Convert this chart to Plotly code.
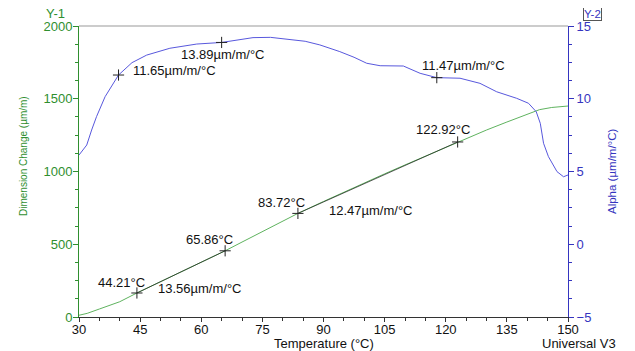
import plotly.graph_objects as go

# ---- data ----
temp_dim = [30, 32, 35, 40, 44.21, 50, 55, 60, 65.86, 70, 75, 80, 83.72, 90, 95, 100,
            105, 110, 115, 120, 122.92, 125, 130, 135, 140, 143, 146, 150]
dim_change = [12, 25, 55, 105, 165, 242, 310, 378, 455, 515, 585, 655, 712, 794, 859, 921,
              984, 1045, 1105, 1166, 1203, 1225, 1285, 1340, 1395, 1425, 1440, 1450]

temp_alpha = [30.0, 31.9, 33.1, 34.3, 36.4, 39.7, 43.0, 46.6, 52.3, 58.9, 65.0, 69.5, 72.7,
              77.0, 81.8, 85.5, 89.1, 94.0, 97.5, 100.6, 103.9, 109.6, 113.7, 117.8, 123.5,
              128.4, 132.5, 137.4, 140.3, 142.2, 143.2, 144.0, 145.2, 147.3, 148.9, 150.0]
alpha = [6.13, 6.82, 7.85, 8.77, 10.14, 11.63, 12.48, 13.0, 13.47, 13.76, 13.87, 14.04, 14.2,
         14.22, 14.08, 13.95, 13.7, 13.24, 12.85, 12.44, 12.27, 12.25, 11.75, 11.45, 11.41,
         11.06, 10.48, 10.03, 9.69, 9.11, 8.31, 6.94, 6.02, 4.99, 4.64, 4.76]

# analysis points (chord segments between pairs on the dimension-change curve)
mark_temp_dim = [44.21, 65.86, 83.72, 122.92]
mark_dim = [165, 455, 712, 1203]
mark_temp_alpha = [39.7, 65.0, 117.8]
mark_alpha = [11.63, 13.87, 11.45]

labels = ["11.65µm/m/°C", "13.89µm/m/°C", "11.47µm/m/°C", "122.92°C", "83.72°C",
          "12.47µm/m/°C", "65.86°C", "44.21°C", "13.56µm/m/°C"]
label_px = [(131, 70), (179, 54), (420, 66), (414, 130), (256, 202),
            (327, 210), (184, 239), (96, 282), (156, 288)]

x_ticks = [30, 45, 60, 75, 90, 105, 120, 135, 150]
y1_ticks = [0, 500, 1000, 1500, 2000]
y2_ticks = [-5, 0, 5, 10, 15]

GREEN_T = "#2f8f2f"
GREEN_L = "#5fb35f"
BLUE_T = "#3535c0"
BLUE_L = "#5858dd"
FONT = "Liberation Sans, Arial, sans-serif"

# page places the figure 8px in from the top-left corner (body margin)
OFF = 8
W, H = 635, 351
PX0, PX1, PY0, PY1 = 79, 568, 26, 317          # plot area in screen pixels
L, T = PX0 - OFF, PY0 - OFF
R, B = W - (PX1 - OFF), H - (PY1 - OFF)
PW, PH = PX1 - PX0, PY1 - PY0

def px2paper(px, py):
    return (px - PX0) / PW, (PY1 - py) / PH

fig = go.Figure()
fig.add_trace(go.Scatter(x=temp_dim, y=dim_change, mode="lines",
                         line=dict(color=GREEN_L, width=1), yaxis="y", showlegend=False))
fig.add_trace(go.Scatter(x=temp_alpha, y=alpha, mode="lines",
                         line=dict(color=BLUE_L, width=1), yaxis="y2", showlegend=False))
# chord segments between the paired analysis points
chord_x = [mark_temp_dim[0], mark_temp_dim[1], None, mark_temp_dim[2], mark_temp_dim[3]]
chord_y = [mark_dim[0], mark_dim[1], None, mark_dim[2], mark_dim[3]]
fig.add_trace(go.Scatter(x=chord_x, y=chord_y, mode="lines",
                         line=dict(color="rgba(30,30,30,0.7)", width=1), yaxis="y",
                         showlegend=False))
fig.add_trace(go.Scatter(x=mark_temp_dim, y=mark_dim, mode="markers",
                         marker=dict(symbol="cross-thin", size=8, line=dict(color="#222", width=1)),
                         yaxis="y", showlegend=False))
fig.add_trace(go.Scatter(x=mark_temp_alpha, y=mark_alpha, mode="markers",
                         marker=dict(symbol="cross-thin", size=8, line=dict(color="#222", width=1)),
                         yaxis="y2", showlegend=False))

annotations = []
for txt, (px, py) in zip(labels, label_px):
    xp, yp = px2paper(px, py)
    annotations.append(dict(text=txt, x=xp, y=yp, xref="paper", yref="paper",
                            xanchor="left", yanchor="middle", showarrow=False,
                            font=dict(family=FONT, size=13, color="#111")))

def add_text(txt, px, py, color, size, angle=0, xanchor="center", **kw):
    xp, yp = px2paper(px, py)
    annotations.append(dict(text=txt, x=xp, y=yp, xref="paper", yref="paper",
                            xanchor=xanchor, yanchor="middle", showarrow=False, textangle=angle,
                            font=dict(family=FONT, size=size, color=color), **kw))

add_text("Y-1", 55, 14, GREEN_T, 13)
add_text("Y-2", 592, 14, BLUE_T, 11.5, bordercolor="#555", borderwidth=1, borderpad=0)
add_text("Dimension Change (µm/m)", 23, 156, GREEN_T, 10, angle=-90)
add_text("Alpha (µm/m/°C)", 612, 171, BLUE_T, 11.5, angle=-90)
add_text("Temperature (°C)", 324, 343, "#111", 13)
add_text("Universal V3", 579, 343, "#111", 13)

fig.update_layout(
    width=W, height=H,
    margin=dict(l=L, r=R, t=T, b=B, pad=0, autoexpand=False),
    paper_bgcolor="white", plot_bgcolor="white",
    font=dict(family=FONT, size=13),
    annotations=annotations,
    xaxis=dict(range=[30, 150], tickvals=x_ticks, showgrid=False, zeroline=False,
               showline=True, linecolor="#333", linewidth=1, automargin=False,
               ticks="outside", ticklen=4, tickcolor="#333", ticklabelstandoff=-4,
               minor=dict(dtick=5, tick0=30, ticks="outside", ticklen=3, tickcolor="#333"),
               tickfont=dict(color="#111", size=13)),
    yaxis=dict(range=[0, 2000], tickvals=y1_ticks, showgrid=False, zeroline=False,
               showline=True, linecolor=GREEN_T, linewidth=1, automargin=False,
               ticks="outside", ticklen=5, tickcolor=GREEN_T, ticklabelstandoff=-2,
               minor=dict(dtick=125, tick0=0, ticks="outside", ticklen=3, tickcolor=GREEN_T),
               tickfont=dict(color=GREEN_T, size=13)),
    yaxis2=dict(range=[-5, 15], tickvals=y2_ticks, overlaying="y", side="right",
                showgrid=False, zeroline=False, automargin=False,
                showline=True, linecolor=BLUE_T, linewidth=1,
                ticks="outside", ticklen=5, tickcolor=BLUE_T,
                minor=dict(dtick=1.25, tick0=-5, ticks="outside", ticklen=3, tickcolor=BLUE_T),
                tickfont=dict(color=BLUE_T, size=13)),
    shapes=[dict(type="line", xref="paper", yref="paper", x0=0, x1=1, y0=1, y1=1,
                 line=dict(color="#999", width=1))],
)

fig.write_html("out.html")
